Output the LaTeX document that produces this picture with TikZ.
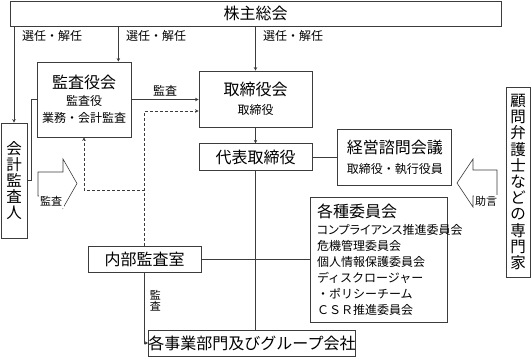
\documentclass[tikz,border=0pt]{standalone}
\usepackage{fontspec}
\setmainfont{Noto Sans CJK JP}
\newfontfamily\jpprop{Noto Sans CJK JP}[RawFeature={+palt}]
\usetikzlibrary{arrows.meta,positioning,calc}
\definecolor{ink}{HTML}{3C3C3C}
\newcommand\hdfont{\fontsize{16}{18}\selectfont}

\begin{document}
\begin{tikzpicture}[
  x=1pt, y=-1pt,
  font=\fontsize{12}{17}\selectfont, >={Stealth[length=3.5pt,width=3.5pt]},
  box/.style={draw=ink, line width=0.8pt, fill=white, align=center, inner sep=0pt},
  hd/.style={font=\hdfont},
  vt/.style={box, font=\fontsize{15.5}{16.2}\selectfont},
  flow/.style={->, draw=ink, line width=0.6pt},
  conn/.style={draw=ink, line width=0.6pt},
  dflow/.style={flow, densely dashed},
  lab/.style={font=\fontsize{12}{12}\selectfont, inner sep=1pt},
  blk/.style={draw=ink, line width=0.6pt, fill=white},
  blab/.style={font=\fontsize{11}{11}\selectfont, fill=white, inner sep=1.5pt}
]
\useasboundingbox (0,0) rectangle (532,357);

% ---- shareholders
\node[box, hd, minimum width=491pt, minimum height=25pt] (kabu) at (255.5,13.5) {株主総会};

% ---- boards
\node[box, minimum width=94pt, minimum height=75pt] (kansa) at (84,99.5)
  {{\hdfont 監査役会}\\監査役\\業務・会計監査};
\node[box, minimum width=113pt, minimum height=56pt] (torikai) at (255.5,99)
  {{\hdfont 取締役会}\\[2.5pt]取締役};
\node[box, hd, minimum width=113pt, minimum height=27pt, below=16pt of torikai] (daihyo) {代表取締役};
\node[box, minimum width=114pt, minimum height=56pt, right=25pt of daihyo] (keiei)
  {{\hdfont 経営諮問会議}\\[3.5pt]取締役・執行役員};

% ---- outside
\node[vt, minimum width=26pt, minimum height=115pt] (kaikei) at (14,180.5) {会\\計\\監\\査\\人};
\node[vt, minimum width=24pt, minimum height=190pt] (komon) at (518,182)
  {顧\\問\\弁\\護\\士\\な\\ど\\の\\専\\門\\家};

% ---- committees, audit office, business units
\node[box, font=\fontsize{12}{16}\selectfont, align=left, text width=123pt, inner xsep=7pt,
      minimum height=125pt] (iinkai) at (378.5,259.5)
  {{\hdfont 各種委員会}\\[1.5pt]{\jpprop コンプライアンス推進委員会}\\危機管理委員会\\個人情報保護委員会\\ディスクロージャー\\・ポリシーチーム\\ＣＳＲ推進委員会};
\node[box, hd, minimum width=113pt, minimum height=26pt] (naibu) at (144.5,259) {内部監査室};
\node[box, hd, minimum width=200pt, minimum height=26pt] (jigyo) at (252,343) {各事業部門及びグループ会社};

% ---- appointment
\coordinate (kin) at ($(kansa.north east)+(-13,0)$);
\draw[flow] (kabu.south -| kaikei.north) -- (kaikei.north);
\draw[flow] (kabu.south -| kin) -- (kin);
\draw[flow] (kabu.south -| torikai.north) -- (torikai.north);
\node[lab, anchor=west] (selA) at (21,36) {選任・解任};
\node[lab, anchor=west] (selB) at (125,36) {選任・解任};
\node[lab, anchor=west] (selC) at (262,36) {選任・解任};

% ---- audit lines
\draw[flow] (kansa.east) -- node[lab, above=2pt] (kanL) {監査} (kansa.east -| torikai.west);
\draw[conn] (kansa.west) -- ++(-5,0) |- (kaikei.east);
\coordinate (dIn) at ($(torikai.west)+(0,12)$);
\coordinate (dJoin) at ($(naibu.north)+(0,-55)$);
\draw[dflow] (naibu.north) |- (dIn);
\draw[dflow] (dJoin) -| (kansa.south);
\draw[flow] (naibu.south) |- node[lab, align=center, font=\fontsize{11}{11}\selectfont, anchor=west, pos=0.2, xshift=4pt] (naiL) {監\\査} (jigyo.west);

% ---- management
\draw[flow] (torikai) -- (daihyo);
\draw[conn] (daihyo) -- (keiei);
\draw[conn] (daihyo.south) -- (daihyo.south |- jigyo.north);
\draw[conn] (naibu.east) -- (naibu.east -| iinkai.west);

% ---- block arrows
\draw[blk] (38,172) -- (63,172) -- (63,159) -- (77,183.5) -- (63,208) -- (63,196) -- (38,196) -- cycle;
\node[blab] (kaiL) at (51,201.5) {監査};
\draw[blk] (497,170) -- (473,170) -- (473,159) -- (457,183) -- (473,207) -- (473,196) -- (497,196) -- cycle;
\node[blab] (jogL) at (486,201.5) {助言};
\end{tikzpicture}
\end{document}
